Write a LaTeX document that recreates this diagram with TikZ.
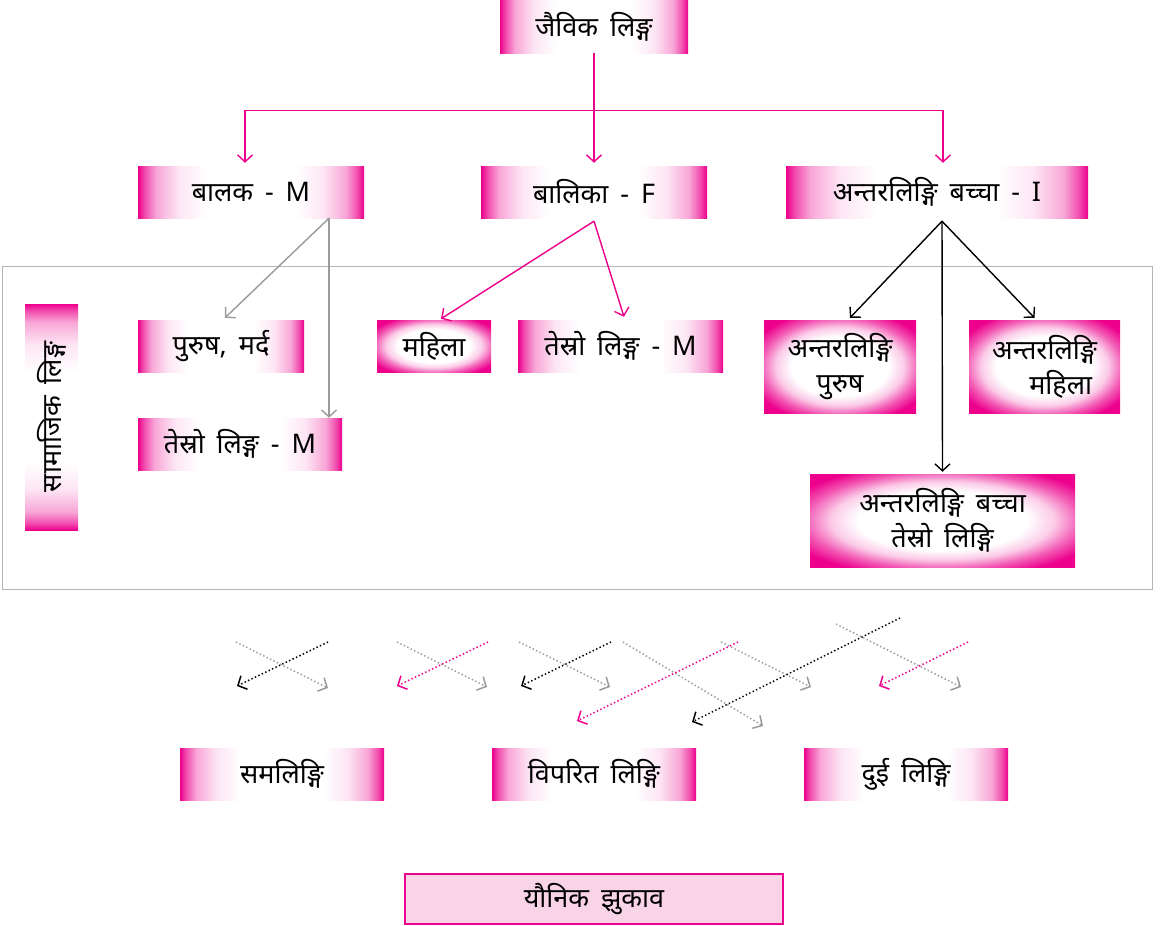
\documentclass[tikz,border=0pt]{standalone}
\usepackage{fontspec}
\newfontfamily\dev[Script=Devanagari,WordSpace=1.7]{Noto Sans}
\usetikzlibrary{arrows.meta}
\definecolor{mg}{HTML}{EC008C}
\definecolor{gr}{HTML}{9A9A9A}
\definecolor{lpk}{HTML}{F9D3E6}
\definecolor{frm}{HTML}{B5B5B5}
\pgfdeclarehorizontalshading{hshade}{100bp}{color(0bp)=(mg); color(25bp)=(mg); color(26.5bp)=(mg!70); color(29bp)=(mg!35); color(34bp)=(mg!10); color(40bp)=(white); color(60bp)=(white); color(66bp)=(mg!10); color(71bp)=(mg!35); color(73.5bp)=(mg!70); color(75bp)=(mg); color(100bp)=(mg)}
\pgfdeclareradialshading{rshade}{\pgfpoint{0bp}{0bp}}{color(0bp)=(white); color(16bp)=(white); color(21bp)=(mg!20); color(26bp)=(mg!65); color(31bp)=(mg); color(50bp)=(mg)}
\begin{document}
\begin{tikzpicture}[x=1pt,y=-1pt,
  every node/.style={font=\dev\fontsize{27}{35}\selectfont, inner sep=0pt, align=center},
  hbox/.style={rectangle, shade, shading=hshade, minimum height=52},
  vbox/.style={rectangle, shade, shading=hshade, shading angle=90, minimum width=53},
  rbox/.style={rectangle, shade, shading=rshade, minimum height=93},
  link/.style={line width=1.4pt, -{Straight Barb[length=7pt,width=15pt]}},
  lpk/.style={link, draw=mg},
  lgr/.style={link, draw=gr},
  lbk/.style={link, draw=black},
  dotl/.style={line width=1.5pt, dash pattern=on 1.4pt off 2.4pt, -{Straight Barb[length=7pt,width=15pt]}},
  dpk/.style={dotl, draw=mg},
  dgr/.style={dotl, draw=gr},
  dbk/.style={dotl, draw=black}]
\useasboundingbox (0,0) rectangle (1167,926);

% frame
\draw[frm, line width=1pt] (2,266) rectangle (1152,589);

% nodes
\node[hbox, minimum width=188, minimum height=53] (jaivik) at (594,26.5) {जैविक लिङ्ग};
\node[hbox, minimum width=226] (balak) at (251,192) {बालक - M};
\node[hbox, minimum width=226] (balika) at (594,192) {बालिका - F};
\node[hbox, minimum width=302] (antar) at (937,192) {अन्तरलिङ्गि बच्चा - I};

\node[vbox, minimum height=226] (samajik) at (51.5,417) {\rotatebox{90}{सामाजिक लिङ्ग}};
\node[hbox, minimum width=166] (purush) at (221,346) {पुरुष, मर्द};
\node[hbox, minimum width=204] (tesroA) at (240,444) {तेस्रो लिङ्ग - M};
\node[rbox, minimum width=114, minimum height=52] (mahila) at (434,346) {महिला};
\node[hbox, minimum width=205] (tesroB) at (620.5,346) {तेस्रो लिङ्ग - M};
\node[rbox, minimum width=152] (antP) at (840,366.5) {अन्तरलिङ्गि\\पुरुष};
\node[rbox, minimum width=151] (antM) at (1044.5,366.5) {अन्तरलिङ्गि\\\hspace*{1.2em}महिला};
\node[rbox, minimum width=265] (antB) at (942.5,520.5) {अन्तरलिङ्गि बच्चा\\तेस्रो लिङ्गि};

\node[hbox, minimum width=204] (sam) at (282,774) {समलिङ्गि};
\node[hbox, minimum width=204] (vip) at (594,774) {विपरित लिङ्गि};
\node[hbox, minimum width=204] (dui) at (906,774) {दुई लिङ्गि};
\node[rectangle, fill=lpk, draw=mg, line width=1.5pt, minimum width=378, minimum height=50] (yaun) at (594,899) {यौनिक झुकाव};

% top connectors
\draw[lpk] (jaivik.south) -- ([yshift=3pt]balika.north);
\draw[lpk] (jaivik.south) ++(0,57) -| ([xshift=-6pt,yshift=3pt]balak.north);
\draw[lpk] (jaivik.south) ++(0,57) -| ([xshift=6pt,yshift=3pt]antar.north);

% second level
\draw[lgr] ([xshift=78pt]balak.south) -- ([xshift=4pt,yshift=2pt]purush.north);
\draw[lgr] ([xshift=78pt]balak.south) -- ([xshift=89pt]tesroA.north);
\draw[lpk] ([yshift=-3pt]balika.south) -- ([xshift=7pt,yshift=1pt]mahila.north);
\draw[lpk] ([yshift=-3pt]balika.south) -- ([xshift=3.5pt,yshift=3pt]tesroB.north);
\draw[lbk] ([xshift=5pt,yshift=-3pt]antar.south) -- ([xshift=10pt,yshift=2pt]antP.north);
\draw[lbk] ([xshift=5pt,yshift=-3pt]antar.south) -- ([xshift=-10pt,yshift=2pt]antM.north);
\draw[lbk] ([xshift=5pt,yshift=-3pt]antar.south) -- ([yshift=2pt]antB.north);

% dotted arrows (orientation)
\coordinate (a1) at (236,642); \coordinate (b1) at (328,688);
\coordinate (a2) at (328,642); \coordinate (b2) at (237,686);
\coordinate (a3) at (397,642); \coordinate (b3) at (487,687);
\coordinate (a4) at (488,642); \coordinate (b4) at (397,686);
\coordinate (a5) at (519,642); \coordinate (b5) at (610,687);
\coordinate (a6) at (611,642); \coordinate (b6) at (521,686);
\coordinate (a7) at (623,642); \coordinate (b7) at (763,726);
\coordinate (a8) at (738,642); \coordinate (b8) at (577,721);
\coordinate (a9) at (721,642); \coordinate (b9) at (811,687);
\coordinate (a10) at (900,618); \coordinate (b10) at (692,722);
\coordinate (a11) at (836,624); \coordinate (b11) at (961,687);
\coordinate (a12) at (968,642); \coordinate (b12) at (879,686);
\draw[dgr] (a1) -- (b1);
\draw[dbk] (a2) -- (b2);
\draw[dgr] (a3) -- (b3);
\draw[dpk] (a4) -- (b4);
\draw[dgr] (a5) -- (b5);
\draw[dbk] (a6) -- (b6);
\draw[dgr] (a7) -- (b7);
\draw[dpk] (a8) -- (b8);
\draw[dgr] (a9) -- (b9);
\draw[dbk] (a10) -- (b10);
\draw[dgr] (a11) -- (b11);
\draw[dpk] (a12) -- (b12);
\end{tikzpicture}
\end{document}
